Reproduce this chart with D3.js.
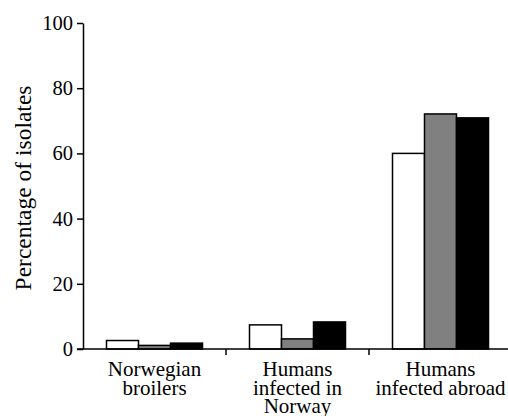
<!DOCTYPE html>
<html>
<head>
<meta charset="utf-8">
<script src="https://cdn.jsdelivr.net/npm/d3@7"></script>
<style>
  body { margin: 0; background: #fff; }
</style>
</head>
<body>
<svg id="drawing_region"></svg>
<script>
// categories and series (three bar shades per group)
const categories = [
    ["Norwegian", "broilers"],
    ["Humans", "infected in", "Norway"],
    ["Humans", "infected abroad"]
];
const series = ["white", "grey", "black"];
const whiteValues = [2.6, 7.4, 60.0];
const greyValues  = [1.1, 3.1, 72.1];
const blackValues = [1.8, 8.3, 70.9];
const yTicks = [0, 20, 40, 60, 80, 100];

const fills = { white: "#ffffff", grey: "#808080", black: "#000000" };
const serif = '"Liberation Serif", "DejaVu Serif", "Times New Roman", Times, serif';

const data = categories.map((c, i) => ({
    key: i,
    lines: c,
    values: [
        { s: "white", v: whiteValues[i] },
        { s: "grey",  v: greyValues[i] },
        { s: "black", v: blackValues[i] }
    ]
}));

const width = 508, height = 416;
const margin = { top: 23, left: 83, bottom: 67 };

const svg = d3.select("#drawing_region")
    .attr("width", width)
    .attr("height", height)
    .style("font-family", serif);

const x0 = d3.scaleBand()
    .domain(data.map(d => d.key))
    .range([margin.left, margin.left + 3 * 143]);

const x1 = d3.scaleBand()
    .domain(series)
    .range([23.5, 119.5]);

const y = d3.scaleLinear()
    .domain([0, 100])
    .range([height - margin.bottom, margin.top]);

// bars
const groups = svg.append("g")
    .selectAll("g")
    .data(data)
    .join("g")
    .attr("transform", d => `translate(${x0(d.key)},0)`);

groups.selectAll("rect")
    .data(d => d.values)
    .join("rect")
    .attr("x", d => x1(d.s))
    .attr("width", x1.bandwidth())
    .attr("y", d => y(d.v))
    .attr("height", d => y(0) - y(d.v))
    .attr("fill", d => fills[d.s])
    .attr("stroke", "#000")
    .attr("stroke-width", 1.5);

// y axis
const yAxis = d3.axisLeft(y)
    .tickValues(yTicks)
    .tickSize(6)
    .tickPadding(4)
    .tickSizeOuter(0);

const yg = svg.append("g")
    .attr("transform", `translate(${margin.left},0)`)
    .call(yAxis)
    .attr("font-family", serif)
    .attr("font-size", 20.5);
yg.select(".domain").attr("stroke-width", 1.5);
yg.selectAll(".tick line").attr("stroke-width", 1.5);

// x axis
svg.append("line")
    .attr("x1", margin.left - 6)
    .attr("x2", width)
    .attr("y1", y(0))
    .attr("y2", y(0))
    .attr("stroke", "#000")
    .attr("stroke-width", 1.5);

svg.append("g")
    .selectAll("line")
    .data(data.slice(1))
    .join("line")
    .attr("x1", d => x0(d.key))
    .attr("x2", d => x0(d.key))
    .attr("y1", y(0))
    .attr("y2", y(0) + 6)
    .attr("stroke", "#000")
    .attr("stroke-width", 1.5);

// category labels
const labels = svg.append("g")
    .selectAll("text")
    .data(data)
    .join("text")
    .attr("text-anchor", "middle")
    .attr("font-family", serif)
    .attr("font-size", 21);

labels.selectAll("tspan")
    .data(d => d.lines.map((l, i) => ({ l, i, cx: x0(d.key) + x0.bandwidth() / 2 })))
    .join("tspan")
    .attr("x", d => d.cx)
    .attr("y", d => 376 + d.i * 18.5)
    .text(d => d.l);

// y label
svg.append("text")
    .attr("transform", "translate(31,188) rotate(-90)")
    .attr("text-anchor", "middle")
    .attr("font-family", serif)
    .attr("font-size", 23.5)
    .text("Percentage of isolates");
</script>
</body>
</html>
